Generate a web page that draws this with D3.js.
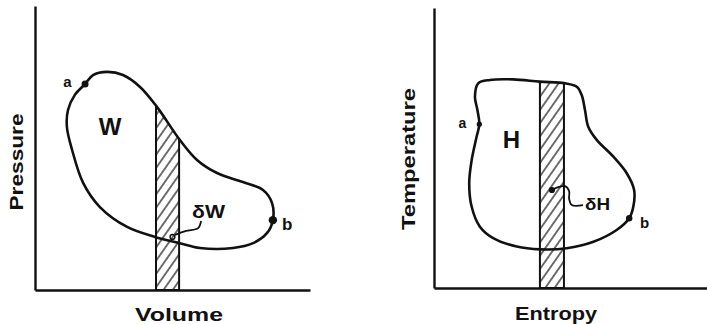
<!DOCTYPE html>
<html><head><meta charset="utf-8">
<script src="https://cdn.jsdelivr.net/npm/d3@7"></script>
<style>
body{margin:0;background:#fff}
svg{display:block}
text{font-family:"Liberation Sans",Arial,Helvetica,sans-serif;font-weight:bold;fill:#111}
</style>
</head><body>
<svg id="chart" width="707" height="324"></svg>
<script>
// ---------- Data (arbitrary units 0..10 on each axis) ----------
// Pressure–Volume cycle (clockwise from point a)
const pvVolume   = [1.82,2.11,2.62,3.20,3.82,4.44,5.27,5.89,6.62,7.56,8.29,8.62,8.65,8.44,7.93,7.20,6.00,5.27,4.36,3.35,2.36,1.75,1.35,1.16,1.20,1.45];
const pvPressure = [7.25,7.57,7.68,7.57,7.15,6.44,5.28,4.58,4.12,3.80,3.52,3.06,2.46,2.01,1.65,1.48,1.48,1.65,1.87,2.22,2.92,3.77,4.93,5.74,6.34,6.87];
const pvStrip = [4.40, 5.24];              // δV strip on volume axis
const pvPointNames = ["a","b"];
const pvPointVolume = [1.82, 8.65];
const pvPointPressure = [7.25, 2.46];
const pvLeaderVolume = [6.04,5.93,5.49,5.09];
const pvLeaderPressure = [2.43,2.18,2.08,1.94];

// Temperature–Entropy cycle (clockwise from top-left)
const tsEntropy     = [1.62,2.05,2.90,3.88,4.80,5.23,5.41,5.53,5.65,5.96,6.57,7.06,7.33,7.30,7.15,6.69,5.84,4.86,3.88,3.03,2.17,1.68,1.38,1.29,1.38,1.56,1.66,1.59,1.50];
const tsTemperature = [7.31,7.43,7.45,7.37,7.31,7.19,6.89,6.36,5.76,5.29,4.69,4.10,3.50,2.90,2.49,2.07,1.65,1.42,1.38,1.48,1.78,2.19,2.90,3.74,4.57,5.40,5.85,6.36,6.83];
const tsStrip = [3.88, 4.76];              // δS strip on entropy axis
const tsPointNames = ["a","b"];
const tsPointEntropy = [1.66, 7.15];
const tsPointTemperature = [5.85, 2.49];
const tsLeaderEntropy = [5.46,5.05,4.95,4.95,4.80,4.58,4.32];
const tsLeaderTemperature = [2.96,2.96,3.18,3.46,3.64,3.61,3.50];

// Text labels
const pvAxisLabels = ["Volume","Pressure"];
const tsAxisLabels = ["Entropy","Temperature"];
const pvAreaLabel = "W", pvDeltaLabel = "δW";
const tsAreaLabel = "H", tsDeltaLabel = "δH";

// ---------- Drawing ----------
const svg = d3.select("#chart");
const defs = svg.append("defs");
defs.append("pattern")
  .attr("id","hatch").attr("patternUnits","userSpaceOnUse")
  .attr("width",7.6).attr("height",10)
  .attr("patternTransform","rotate(35)")
  .append("line").attr("x1",3.8).attr("y1",-1).attr("x2",3.8).attr("y2",11)
  .attr("stroke","#111").attr("stroke-width",1.2);

function drawPanel(cfg){
  const g = svg.append("g");
  const x = d3.scaleLinear().domain([0,10]).range(cfg.xRange);
  const y = d3.scaleLinear().domain([0,10]).range(cfg.yRange);
  const pts = cfg.xs.map((v,i)=>[v,cfg.ys[i]]);
  const line = d3.line().x(d=>x(d[0])).y(d=>y(d[1])).curve(d3.curveCatmullRomClosed.alpha(0.5));

  // clip: inside cycle, plus everything below the middle of the cycle
  const clip = defs.append("clipPath").attr("id",cfg.id+"-clip");
  clip.append("path").attr("d",line(pts));
  clip.append("rect").attr("x",x(0)).attr("width",x(10)-x(0))
    .attr("y",y(cfg.clipMid)).attr("height",y(0)-y(cfg.clipMid));

  // hatched strip
  g.append("rect")
    .attr("x",x(cfg.strip[0])).attr("width",x(cfg.strip[1])-x(cfg.strip[0]))
    .attr("y",y(10)).attr("height",y(0)-y(10))
    .attr("fill","url(#hatch)").attr("stroke","#111").attr("stroke-width",2)
    .attr("clip-path",`url(#${cfg.id}-clip)`);

  // axes
  const ax = g.append("g").attr("transform",`translate(${x(0)},0)`)
    .call(d3.axisLeft(y).tickValues([]).tickSizeOuter(0));
  const bx = g.append("g").attr("transform",`translate(0,${y(0)})`)
    .call(d3.axisBottom(x).tickValues([]).tickSizeOuter(0));
  g.selectAll(".domain").attr("stroke","#111").attr("stroke-width",2.4);

  // cycle curve
  g.append("path").attr("d",line(pts)).attr("fill","none")
    .attr("stroke","#111").attr("stroke-width",2.6).attr("stroke-linejoin","round");

  // state points
  cfg.pNames.forEach((n,i)=>{
    g.append("circle").attr("cx",x(cfg.pX[i])).attr("cy",y(cfg.pY[i]))
      .attr("r",cfg.dotR[i]).attr("fill","#111");
  });

  // leader
  const lpts = cfg.lx.map((v,i)=>[v,cfg.ly[i]]);
  g.append("path").attr("d",d3.line().x(d=>x(d[0])).y(d=>y(d[1])).curve(d3.curveCatmullRom.alpha(0.5))(lpts))
    .attr("fill","none").attr("stroke","#111").attr("stroke-width",1.8);
  const end = lpts[lpts.length-1];
  g.append("circle").attr("cx",x(end[0])+cfg.endOff[0]).attr("cy",y(end[1])+cfg.endOff[1]).attr("r",2.4)
    .attr("fill",cfg.endFill).attr("stroke","#111").attr("stroke-width",1.4);

  // texts
  cfg.texts.forEach(t=>{
    const el = g.append("text").attr("x",x(t.x)).attr("y",y(t.y))
      .attr("font-size",t.size).attr("text-anchor",t.anchor||"start").text(t.s);
    if(t.len){el.attr("textLength",t.len).attr("lengthAdjust","spacingAndGlyphs");}
  });

  // axis titles
  g.append("text").attr("x",(x(0)+x(10))/2 + cfg.xTitleDx).attr("y",cfg.xTitleY)
    .attr("text-anchor","middle").attr("font-size",19)
    .attr("textLength",cfg.xTitleLen).attr("lengthAdjust","spacingAndGlyphs").text(cfg.titles[0]);
  g.append("text").attr("transform",`translate(${cfg.yTitleX},${cfg.yTitleCy}) rotate(-90)`)
    .attr("text-anchor","middle").attr("font-size",19)
    .attr("textLength",cfg.yTitleLen).attr("lengthAdjust","spacingAndGlyphs").text(cfg.titles[1]);
}

drawPanel({
  id:"pv", xRange:[35,310], yRange:[290,6],
  xs:pvVolume, ys:pvPressure, strip:pvStrip, clipMid:3,
  pNames:pvPointNames, pX:pvPointVolume, pY:pvPointPressure, dotR:[3.5,4.2],
  lx:pvLeaderVolume, ly:pvLeaderPressure, endOff:[-2.5,2], endFill:"none",
  texts:[
    {s:pvPointNames[0], x:1.18, y:7.15, size:15, anchor:"middle"},
    {s:pvPointNames[1], x:8.98, y:2.11, size:17},
    {s:pvAreaLabel, x:2.73, y:5.46, size:24, anchor:"middle"},
    {s:pvDeltaLabel, x:5.71, y:2.54, size:19, len:33}
  ],
  titles:pvAxisLabels, xTitleDx:6.5, xTitleY:321, xTitleLen:88,
  yTitleX:23, yTitleCy:162, yTitleLen:97
});

drawPanel({
  id:"ts", xRange:[434,707], yRange:[288,8],
  xs:tsEntropy, ys:tsTemperature, strip:tsStrip, clipMid:3,
  pNames:tsPointNames, pX:tsPointEntropy, pY:tsPointTemperature, dotR:[2.6,3.2],
  lx:tsLeaderEntropy, ly:tsLeaderTemperature, endOff:[0,0], endFill:"#111",
  texts:[
    {s:tsPointNames[0], x:1.04, y:5.71, size:14, anchor:"middle"},
    {s:tsPointNames[1], x:7.55, y:2.14, size:15},
    {s:tsAreaLabel, x:2.84, y:5.0, size:24, anchor:"middle"},
    {s:tsDeltaLabel, x:5.53, y:2.79, size:16, len:25}
  ],
  titles:tsAxisLabels, xTitleDx:-14.5, xTitleY:320, xTitleLen:82,
  yTitleX:415, yTitleCy:159, yTitleLen:142
});
</script>
</body></html>
